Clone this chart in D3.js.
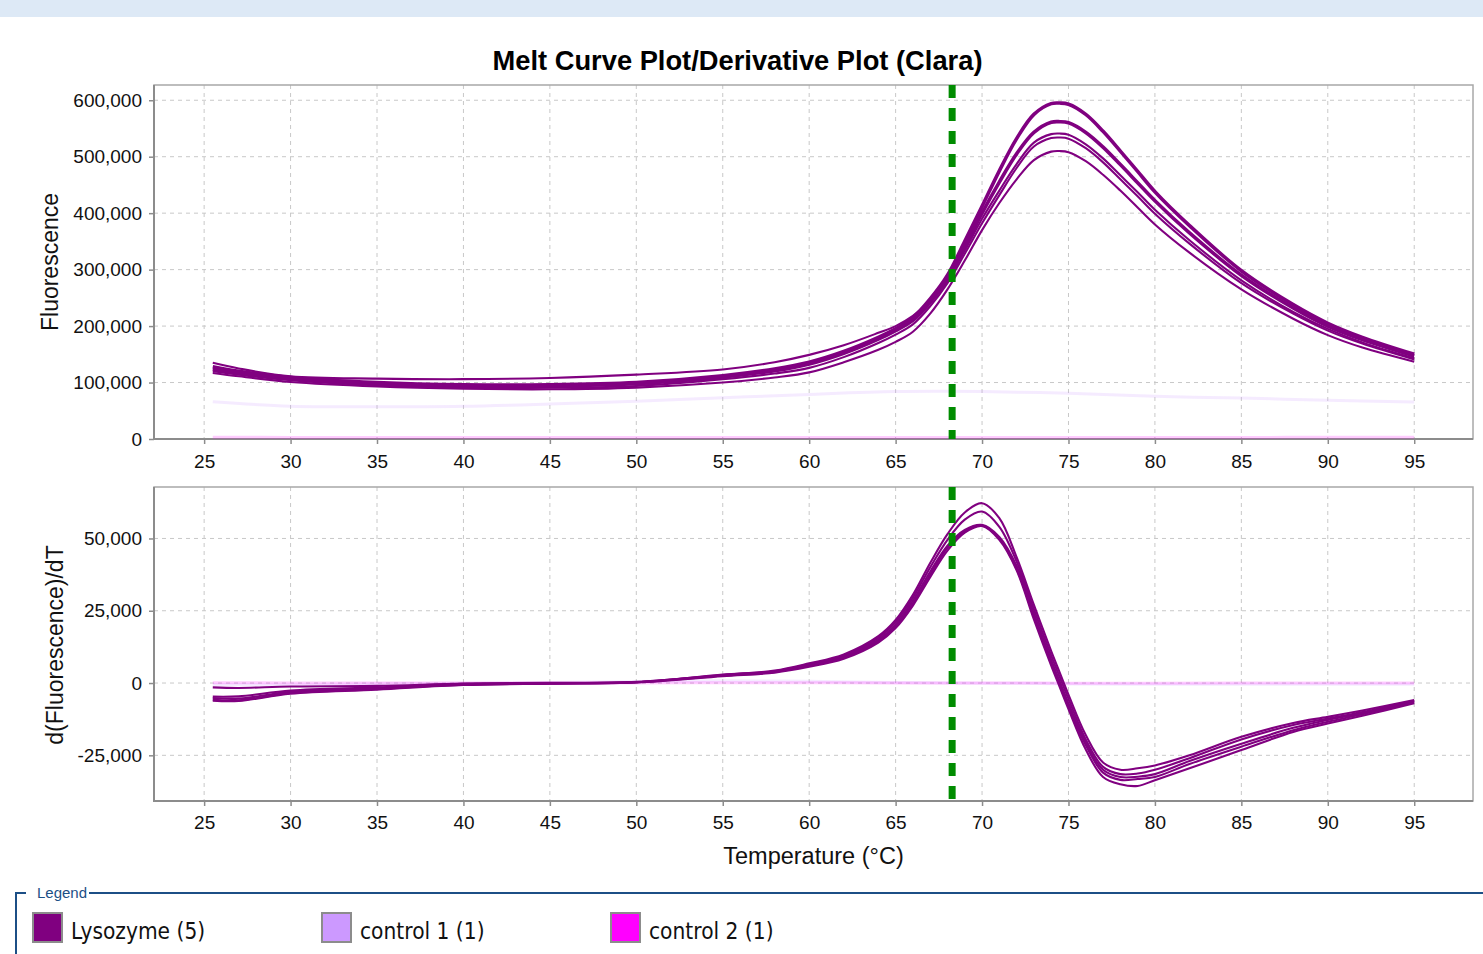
<!DOCTYPE html>
<html lang="en">
<head>
    <meta charset="UTF-8">
    <title>Melt Curve Plot/Derivative Plot (Clara)</title>
    <script src="https://cdn.jsdelivr.net/npm/d3@7"></script>
    <style>
    html, body {
        margin: 0;
        padding: 0;
        background-color: #fff;
    }

    body {
        font-family: "Liberation Sans", Arial, sans-serif;
    }

    .grid line {
        stroke: #c8c8c8;
        stroke-width: 1;
        stroke-dasharray: 4 4;
    }

    .axis path {
        display: none;
    }

    .axis line {
        stroke: #8c8c8c;
        stroke-width: 1.5;
    }

    .axis text {
        font-family: "Liberation Sans", Arial, sans-serif;
        font-size: 19px;
        fill: #111;
    }

    .axis-title {
        font-family: "Liberation Sans", Arial, sans-serif;
        fill: #111;
    }

    .legend-label {
        font-family: "DejaVu Sans", Verdana, sans-serif;
        font-size: 23px;
        fill: #111;
    }
    </style>
</head>
<body>
<svg id="chart" width="1483" height="954"></svg>

<script>
// Data (fluorescence values in thousands)
let temps = [25.5, 27, 30, 35, 40, 45, 50, 55, 58, 60, 62, 64, 65, 66, 67, 68, 69, 70, 71, 72,
             73, 74, 74.5, 75, 76, 77, 78, 79, 80, 82, 85, 88, 90, 92, 95];

let meltRun1 = [128, 120, 109, 100, 96, 96, 100, 112, 124, 136, 155, 180, 195, 215, 248, 290, 350, 412, 475, 532,
                575, 594, 595, 593, 575, 545, 510, 474, 438, 378, 298, 238, 205, 180, 150];
let meltRun2 = [124, 117, 107, 98, 94, 94, 98, 110, 121, 133, 152, 177, 192, 210, 242, 283, 340, 400, 455, 505,
                543, 561, 562, 560, 543, 517, 486, 454, 422, 365, 290, 232, 200, 176, 147];
let meltRun3 = [135, 125, 111, 107, 106, 108, 114, 123, 136, 149, 166, 188, 200, 218, 245, 282, 334, 390, 440, 487,
                525, 540, 541, 539, 522, 497, 467, 437, 406, 352, 281, 225, 195, 171, 143];
let meltRun4 = [120, 114, 104, 95, 91, 91, 94, 106, 116, 126, 145, 170, 185, 203, 235, 276, 328, 382, 432, 480,
                518, 533, 534, 532, 515, 490, 460, 430, 399, 346, 276, 222, 192, 169, 141];
let meltRun5 = [117, 111, 101, 93, 89, 88, 91, 100, 109, 118, 136, 158, 172, 190, 222, 265, 316, 370, 418, 460,
                494, 509, 510, 508, 492, 468, 440, 410, 380, 330, 265, 213, 184, 162, 137];

let derivRun1 = [-1.5, -1.7, -1.2, -1.0, -0.2, 0.1, 0.4, 2.9, 4.3, 6.8, 9.9, 16.2, 21.8, 30.5, 41.5, 51.5, 59, 62.2, 57, 43.5,
                 27, 11, 3.5, -4, -18, -27.5, -30, -29.5, -28.5, -25, -18.6, -13.8, -11.7, -9.5, -5.9];
let derivRun2 = [-4.7, -4.6, -2.6, -1.5, -0.3, 0.0, 0.35, 2.8, 4.1, 6.5, 9.5, 15.6, 21, 29.5, 40, 49.5, 56.5, 59.3, 54, 42,
                 25.5, 9.5, 2, -5.5, -19.5, -29, -31.5, -31.3, -30, -26, -19.5, -14.5, -12.3, -10, -6.1];
let derivRun3 = [-5.2, -5.4, -3.0, -1.8, -0.5, -0.1, 0.3, 2.7, 4.0, 6.2, 9.1, 15.0, 20.2, 28.5, 38.5, 47.5, 53, 54.7, 50.5, 40.5,
                 24, 8, 0.5, -7, -20.5, -30, -32.5, -32.4, -31.5, -27, -21, -15.5, -12.8, -10.4, -6.3];
let derivRun4 = [-5.8, -6.0, -3.4, -2.0, -0.6, -0.2, 0.25, 2.5, 3.8, 6.0, 8.8, 14.5, 19.6, 27.6, 37.5, 46.8, 52.5, 54.5, 50, 39.5,
                 23, 7, -0.5, -8, -21.5, -31, -33.5, -33.2, -32.5, -28, -22, -16.3, -13.4, -10.8, -6.6];
let derivRun5 = [-6.1, -6.2, -3.7, -2.3, -0.7, -0.2, 0.2, 2.4, 3.6, 5.6, 8.4, 14.0, 19.0, 26.8, 36.6, 45.8, 52, 54.3, 49.5, 39,
                 22, 6, -1.5, -9, -23, -32.5, -35, -35.6, -33.6, -29.5, -23.2, -16.9, -14, -11.3, -7];

let ctrlTemps = [25.5, 30, 35, 40, 45, 50, 55, 60, 65, 68, 72, 75, 80, 85, 90, 95];
let control1Melt = [66, 58, 57, 58, 62, 67, 73, 79, 84, 84.5, 83, 81, 75.5, 72.5, 68.5, 65.5];
let control2Melt = [3, 2.8, 2.6, 2.5, 2.5, 2.5, 2.5, 2.5, 2.5, 2.5, 2.5, 2.5, 2.6, 2.8, 3, 3.2];
let control1Deriv = [-0.5, -0.6, -0.3, -0.1, 0.2, 0.5, 0.8, 0.6, 0.2, 0, -0.1, -0.3, -0.4, -0.4, -0.4, -0.4];
let control2Deriv = [0.1, 0.05, 0, 0, 0, 0.05, 0.1, 0.1, 0.05, 0, 0, -0.05, -0.05, 0, 0, 0];

let xTicks = [25, 30, 35, 40, 45, 50, 55, 60, 65, 70, 75, 80, 85, 90, 95];
let meltTicks = [0, 100, 200, 300, 400, 500, 600];
let derivTicks = [-25, 0, 25, 50];
let markerTemp = 68.27;

let legendNames = ['Lysozyme (5)', 'control 1 (1)', 'control 2 (1)'];
let legendColors = ['#800080', '#cc99ff', '#ff00ff'];

// Layout
let width = 1483;
let height = 954;
let plotLeft = 154;
let plotRight = 1473;
let meltPanel = { top: 85, bottom: 439 };
let derivPanel = { top: 487, bottom: 801 };

let svg = d3.select('#chart');

svg.append('rect')
    .attr('width', width)
    .attr('height', height)
    .attr('fill', '#fff');

svg.append('rect')
    .attr('width', width)
    .attr('height', 17)
    .attr('fill', '#dde9f6');

// Scales
let xScale = d3.scaleLinear().domain([22.1, 98.4]).range([plotLeft, plotRight]);
let meltScale = d3.scaleLinear().domain([0, 627]).range([meltPanel.bottom, meltPanel.top]);
let derivScale = d3.scaleLinear().domain([-40.8, 67.8]).range([derivPanel.bottom, derivPanel.top]);

// plain hyphen for negatives, like the original software
let fmt = d3.formatLocale({ decimal: '.', thousands: ',', grouping: [3], currency: ['', ''], minus: '-' }).format(',');

let drawPanel = (panel, yScale, yTicks, runs, controls, thick, labelPad) => {
    let g = svg.append('g');

    // grid
    let grid = g.append('g').attr('class', 'grid');
    grid.selectAll('.vg')
        .data(xTicks)
        .enter()
        .append('line')
        .attr('x1', d => xScale(d))
        .attr('x2', d => xScale(d))
        .attr('y1', panel.top)
        .attr('y2', panel.bottom);
    grid.selectAll('.hg')
        .data(yTicks)
        .enter()
        .append('line')
        .attr('x1', plotLeft)
        .attr('x2', plotRight)
        .attr('y1', d => yScale(d))
        .attr('y2', d => yScale(d));

    // frame
    g.append('rect')
        .attr('x', plotLeft)
        .attr('y', panel.top)
        .attr('width', plotRight - plotLeft)
        .attr('height', panel.bottom - panel.top)
        .attr('fill', 'none')
        .attr('stroke', '#a8a8a8')
        .attr('stroke-width', 1.5);
    g.append('path')
        .attr('d', 'M' + plotLeft + ',' + panel.top + 'V' + panel.bottom + 'H' + plotRight)
        .attr('fill', 'none')
        .attr('stroke', '#8c8c8c')
        .attr('stroke-width', 2);

    // axes
    g.append('g')
        .attr('class', 'axis')
        .attr('transform', 'translate(0,' + panel.bottom + ')')
        .call(d3.axisBottom(xScale).tickValues(xTicks).tickSize(5).tickPadding(labelPad));
    g.append('g')
        .attr('class', 'axis')
        .attr('transform', 'translate(' + plotLeft + ',0)')
        .call(d3.axisLeft(yScale).tickValues(yTicks).tickSize(5).tickPadding(7)
            .tickFormat(d => fmt(d * 1000)));

    // lines
    let line = (xs) => d3.line()
        .x((d, i) => xScale(xs[i]))
        .y(d => yScale(d))
        .curve(d3.curveCatmullRom.alpha(0.5));

    controls.forEach((c) => {
        g.append('path')
            .datum(c.values)
            .attr('d', line(ctrlTemps))
            .attr('fill', 'none')
            .attr('stroke', c.color)
            .attr('stroke-opacity', 0.2)
            .attr('stroke-width', 3);
    });

    runs.forEach((r, i) => {
        g.append('path')
            .datum(r)
            .attr('d', line(temps))
            .attr('fill', 'none')
            .attr('stroke', '#800080')
            .attr('stroke-width', i < thick ? 3.6 : 2.1)
            .attr('stroke-linejoin', 'round');
    });

    // melt temperature marker
    g.append('line')
        .attr('x1', xScale(markerTemp))
        .attr('x2', xScale(markerTemp))
        .attr('y1', panel.top)
        .attr('y2', panel.bottom)
        .attr('stroke', '#008c00')
        .attr('stroke-width', 7)
        .attr('stroke-dasharray', '13 10');
};

drawPanel(meltPanel, meltScale, meltTicks,
    [meltRun1, meltRun2, meltRun3, meltRun4, meltRun5],
    [{ values: control1Melt, color: legendColors[1] }, { values: control2Melt, color: legendColors[2] }],
    2, 11);

drawPanel(derivPanel, derivScale, derivTicks,
    [derivRun1, derivRun2, derivRun3, derivRun4, derivRun5],
    [{ values: control1Deriv, color: legendColors[1] }, { values: control2Deriv, color: legendColors[2] }],
    0, 10);

// Titles
svg.append('text')
    .attr('x', 737.5)
    .attr('y', 70)
    .attr('text-anchor', 'middle')
    .style('font-family', '"Liberation Sans", Arial, sans-serif')
    .style('font-weight', 'bold')
    .style('font-size', '27.3px')
    .text('Melt Curve Plot/Derivative Plot (Clara)');

svg.append('text')
    .attr('class', 'axis-title')
    .attr('transform', 'translate(58,262) rotate(-90)')
    .attr('text-anchor', 'middle')
    .style('font-size', '23px')
    .text('Fluorescence');

svg.append('text')
    .attr('class', 'axis-title')
    .attr('transform', 'translate(63,645) rotate(-90)')
    .attr('text-anchor', 'middle')
    .style('font-size', '23px')
    .text('d(Fluorescence)/dT');

svg.append('text')
    .attr('class', 'axis-title')
    .attr('x', (plotLeft + plotRight) / 2)
    .attr('y', 864)
    .attr('text-anchor', 'middle')
    .style('font-size', '23.5px')
    .text('Temperature (°C)');

// Legend box
let legendBlue = '#1c4f86';
svg.append('path')
    .attr('d', 'M16,954V893H26M89,893H' + width)
    .attr('fill', 'none')
    .attr('stroke', legendBlue)
    .attr('stroke-width', 2);

svg.append('text')
    .attr('x', 37)
    .attr('y', 898)
    .style('font-family', '"Liberation Sans", Arial, sans-serif')
    .style('font-size', '15px')
    .attr('fill', legendBlue)
    .text('Legend');

let legendX = d3.scalePoint().domain(legendNames).range([33, 611]);

let items = svg.selectAll('.legend-item')
    .data(legendNames)
    .enter()
    .append('g')
    .attr('class', 'legend-item')
    .attr('transform', d => 'translate(' + legendX(d) + ',913)');

items.append('rect')
    .attr('width', 29)
    .attr('height', 29)
    .attr('fill', (d, i) => legendColors[i])
    .attr('stroke', '#8c8c8c')
    .attr('stroke-width', 2);

items.append('text')
    .attr('class', 'legend-label')
    .attr('transform', 'translate(38,26) scale(0.88,1)')
    .text(d => d);
</script>
</body>
</html>
